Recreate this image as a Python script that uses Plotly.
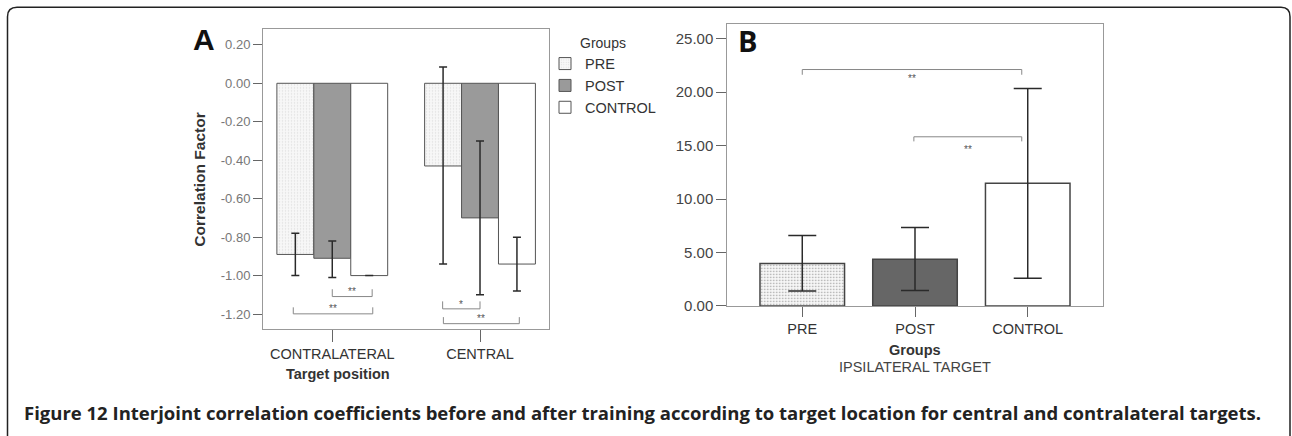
import numpy as np
import plotly.graph_objects as go

W, H = 1292, 436

# ---- panel A data
targets = ["CONTRALATERAL", "CENTRAL"]
pre_mean = [-0.89, -0.43]
pre_hi = [-0.78, 0.085]
pre_lo = [-1.00, -0.94]
post_mean = [-0.91, -0.70]
post_hi = [-0.82, -0.30]
post_lo = [-1.01, -1.10]
ctrl_mean = [-1.00, -0.94]
ctrl_hi = [-1.00, -0.80]
ctrl_lo = [-1.00, -1.08]
a_tickvals = [0.2, 0.0, -0.2, -0.4, -0.6, -0.8, -1.0, -1.2]
a_ticktext = ["0.20", "0.00", "-0.20", "-0.40", "-0.60", "-0.80", "-1.00", "-1.20"]

# ---- panel B data
groups_b = ["PRE", "POST", "CONTROL"]
b_mean = [3.98, 4.38, 11.47]
b_hi = [6.58, 7.34, 20.34]
b_lo = [1.41, 1.44, 2.60]
b_tickvals = [0, 5, 10, 15, 20, 25]
b_ticktext = ["0.00", "5.00", "10.00", "15.00", "20.00", "25.00"]

# significance brackets: (x0, x1, y line, y tick end, label, y label)
sig_a = [
    (0.0, 0.27, -1.109, -1.071, "**", -1.082),
    (-0.264, 0.274, -1.199, -1.165, "**", -1.172),
    (0.747, 1.0, -1.173, -1.134, "*", -1.150),
    (0.752, 1.266, -1.250, -1.216, "**", -1.224),
]
sig_b = [
    (0.0, 1.947, 22.11, 21.62, "**", 21.3),
    (0.99, 1.947, 15.82, 15.39, "**", 14.6),
]

FONT = "Liberation Sans, Arial, sans-serif"


def px(x):
    return x / W


def py(y):
    return 1 - y / H


def err(mean, hi, lo):
    mean, hi, lo = np.array(mean), np.array(hi), np.array(lo)
    return dict(type="data", array=hi - mean, arrayminus=mean - lo,
                color="#2a2a2a", thickness=1.5, width=4)


dots = dict(shape=".", fgcolor="#c4c4c4", bgcolor="#f7f7f7", size=3, solidity=0.2)

fig = go.Figure()

fig.add_trace(go.Bar(x=targets, y=pre_mean, name="PRE", xaxis="x", yaxis="y",
                     marker=dict(color="#f7f7f7", pattern=dots, line=dict(color="#555555", width=1)),
                     error_y=err(pre_mean, pre_hi, pre_lo)))
fig.add_trace(go.Bar(x=targets, y=post_mean, name="POST", xaxis="x", yaxis="y",
                     marker=dict(color="#9a9a9a", line=dict(color="#555555", width=1)),
                     error_y=err(post_mean, post_hi, post_lo)))
fig.add_trace(go.Bar(x=targets, y=ctrl_mean, name="CONTROL", xaxis="x", yaxis="y",
                     marker=dict(color="#ffffff", line=dict(color="#555555", width=1)),
                     error_y=err(ctrl_mean, ctrl_hi, ctrl_lo)))

eb = err(b_mean, b_hi, b_lo)
eb["width"] = 14
fig.add_trace(go.Bar(x=groups_b, y=b_mean, xaxis="x2", yaxis="y2", showlegend=False,
                     marker=dict(color=["#f7f7f7", "#666666", "#ffffff"],
                                 pattern=dict(shape=[".", "", ""], fgcolor="#c4c4c4",
                                              bgcolor="#f7f7f7", size=3, solidity=0.2),
                                 line=dict(color="#444444", width=1.5)),
                     error_y=eb))

shapes = []
annos = []
for xr, yr, brackets in [("x", "y", sig_a), ("x2", "y2", sig_b)]:
    for x0, x1, yl, yt, lab, ylab in brackets:
        for xa, ya, xb, yb in [(x0, yt, x0, yl), (x0, yl, x1, yl), (x1, yl, x1, yt)]:
            shapes.append(dict(type="line", xref=xr, yref=yr, x0=xa, y0=ya, x1=xb, y1=yb,
                               line=dict(color="#888888", width=1)))
        annos.append(dict(x=(x0 + x1) / 2, y=ylab, xref=xr, yref=yr, text=lab, showarrow=False,
                          font=dict(size=10, color="#555555", family=FONT)))

# outer rounded frame, open at the bottom
path = (f"M {px(7.5)},{py(445)} L {px(7.5)},{py(17)} Q {px(7.5)},{py(7.5)} {px(17)},{py(7.5)} "
        f"L {px(1281)},{py(7.5)} Q {px(1290)},{py(7.5)} {px(1290)},{py(17)} L {px(1290)},{py(445)}")
shapes.append(dict(type="path", xref="paper", yref="paper", path=path,
                   line=dict(color="#222222", width=1.5)))


def label(text, x, y, size=14.5, color="#333333", angle=0, xanchor="center", family=FONT):
    annos.append(dict(x=px(x), y=py(y), xref="paper", yref="paper", text=text, showarrow=False,
                      xanchor=xanchor, yanchor="middle", textangle=angle,
                      font=dict(size=size, color=color, family=family)))


label("<b>A</b>", 204, 40, size=30, color="#111111")
label("<b>B</b>", 747, 41, size=29, color="#111111", family="Open Sans, sans-serif")
label("<b>Correlation Factor</b>", 200, 183, size=15.5, angle=-90)
label("<b>Target position</b>", 338, 381)
label("<b>Groups</b>", 915, 357)
label("IPSILATERAL TARGET", 915, 374, color="#444444")
label("<b>Figure 12 Interjoint correlation coefficients before and after training according "
      "to target location for central and contralateral targets.</b>",
      22, 420, size=18.5, color="#222222", xanchor="left", family="Open Sans, sans-serif")

axis_common = dict(showline=True, mirror=True, linecolor="#999999", linewidth=1,
                   showgrid=False, zeroline=False, ticks="outside", tickcolor="#666666")

fig.update_layout(
    width=W, height=H, margin=dict(l=0, r=0, t=0, b=0),
    paper_bgcolor="white", plot_bgcolor="white",
    barmode="group", bargap=0.25, bargroupgap=0,
    font=dict(family=FONT, color="#333333"),
    xaxis=dict(domain=[px(263), px(549)], range=[-0.469, 1.467], anchor="y",
               ticklen=12, tickfont=dict(size=14.5, color="#333333"), **axis_common),
    yaxis=dict(domain=[py(335), py(30)], range=[-1.277, 0.28], anchor="x",
               tickvals=a_tickvals, ticktext=a_ticktext, ticklen=9,
               tickfont=dict(size=13, color="#777777"), **axis_common),
    xaxis2=dict(domain=[px(727.3), px(1102.7)], range=[-0.665, 2.665], anchor="y2",
                ticklen=10, tickfont=dict(size=14.5, color="#333333"), **axis_common),
    yaxis2=dict(domain=[py(311.7), py(24.3)], range=[0, 26.38], anchor="x2",
                tickvals=b_tickvals, ticktext=b_ticktext, ticklen=10,
                tickfont=dict(size=15, color="#444444"), **axis_common),
    legend=dict(x=px(545), y=py(30), xanchor="left", yanchor="top",
                title=dict(text="Groups", side="top center", font=dict(size=14, color="#333333")),
                font=dict(size=14.5, color="#333333"), itemwidth=30,
                bgcolor="rgba(0,0,0,0)", tracegroupgap=0),
    shapes=shapes, annotations=annos,
)

# drop the default 8px body margin so the figure fills the window exactly
fig.write_html("out.html", config={"displayModeBar": False},
               post_script="document.body.style.margin='0';document.body.style.overflow='hidden';")
